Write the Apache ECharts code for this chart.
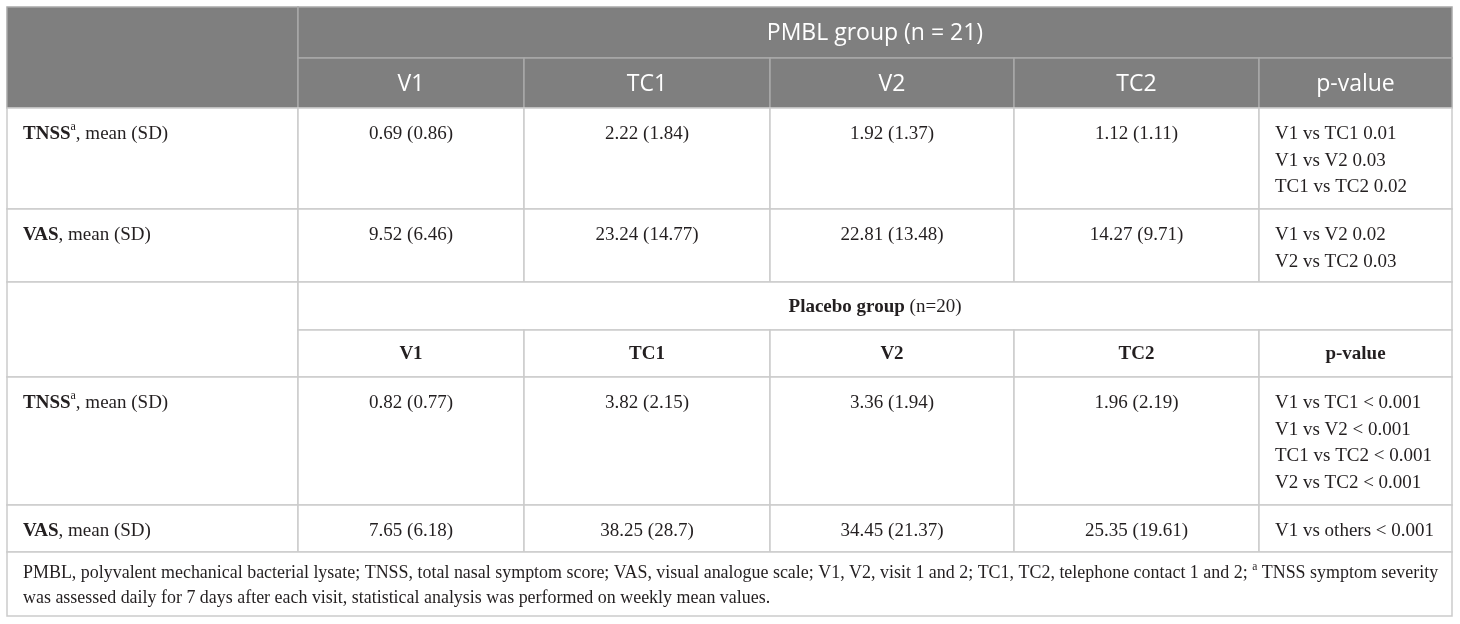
<!DOCTYPE html>
<html>
<head>
<meta charset="utf-8">
<script src="https://cdn.jsdelivr.net/npm/echarts@6/dist/echarts.min.js"></script>
<style>
html,body{margin:0;padding:0;background:#fff;}
#main{width:1460px;height:624px;}
</style>
</head>
<body>
<div id="main"></div>
<script>
// ---------- data ----------
const columns = ['V1', 'TC1', 'V2', 'TC2', 'p-value'];
const pmblTitle = 'PMBL group (n = 21)';
const placeboTitleBold = 'Placebo group';
const placeboTitleRest = ' (n=20)';
const measureNames = ['TNSS', 'VAS'];
const measureSup = ['a', ''];
const measureSuffix = ', mean (SD)';
const pmblMean = [[0.69, 2.22, 1.92, 1.12], [9.52, 23.24, 22.81, 14.27]];
const pmblSD = [[0.86, 1.84, 1.37, 1.11], [6.46, 14.77, 13.48, 9.71]];
const pmblP = [
  ['V1 vs TC1 0.01', 'V1 vs V2 0.03', 'TC1 vs TC2 0.02'],
  ['V1 vs V2 0.02', 'V2 vs TC2 0.03']
];
const placeboMean = [[0.82, 3.82, 3.36, 1.96], [7.65, 38.25, 34.45, 25.35]];
const placeboSD = [[0.77, 2.15, 1.94, 2.19], [6.18, 28.7, 21.37, 19.61]];
const placeboP = [
  ['V1 vs TC1 < 0.001', 'V1 vs V2 < 0.001', 'TC1 vs TC2 < 0.001', 'V2 vs TC2 < 0.001'],
  ['V1 vs others < 0.001']
];
const footnoteA = 'PMBL, polyvalent mechanical bacterial lysate; TNSS, total nasal symptom score; VAS, visual analogue scale; V1, V2, visit 1 and 2; TC1, TC2, telephone contact 1 and 2; ';
const footnoteB = ' TNSS symptom severity';
const footnoteC = 'was assessed daily for 7 days after each visit, statistical analysis was performed on weekly mean values.';

// ---------- layout ----------
const colW = [291, 226, 246, 244, 245, 193];
const rowH = [51, 50, 101, 73, 48, 47, 128, 47, 64];
function edges(a) { const e = [0]; a.forEach(v => e.push(e[e.length - 1] + v)); return e; }
const xE = edges(colW), yE = edges(rowH);

const SERIF = '"Liberation Serif", "Times New Roman", serif';
const SANS = '"Open Sans", "Noto Sans", sans-serif';
const FS = 19, LH = 26.5, FOOT_FS = 17.95;
const TXT = '#231f20';
const HEAD_BG = '#7f7f7f';

const cells = [];
// PMBL header
cells.push({ c: [0, 1], r: [0, 2], head: true });
cells.push({ c: [1, 6], r: [0, 1], head: true, text: pmblTitle, mode: 'center' });
columns.forEach((t, j) => cells.push({ c: [1 + j, 2 + j], r: [1, 2], head: true, text: t, mode: 'center' }));

function bodyRows(means, sds, ps, r0) {
  for (let i = 0; i < 2; i++) {
    const r = [r0 + i, r0 + i + 1];
    const lbl = '{b|' + measureNames[i] + '}' + (measureSup[i] ? '{sup|' + measureSup[i] + '}' : '') + '{r|' + measureSuffix + '}';
    cells.push({ c: [0, 1], r, rich: lbl, mode: 'left' });
    for (let j = 0; j < 4; j++) {
      cells.push({ c: [1 + j, 2 + j], r, text: means[i][j] + ' (' + sds[i][j] + ')', mode: 'top' });
    }
    cells.push({ c: [5, 6], r, text: ps[i].join('\n'), mode: 'left' });
  }
}
bodyRows(pmblMean, pmblSD, pmblP, 2);
// Placebo header
cells.push({ c: [0, 1], r: [4, 6] });
cells.push({ c: [1, 6], r: [4, 5], rich: '{b|' + placeboTitleBold + '}{r|' + placeboTitleRest + '}', mode: 'center' });
columns.forEach((t, j) => cells.push({ c: [1 + j, 2 + j], r: [5, 6], rich: '{b|' + t + '}', mode: 'center' }));
bodyRows(placeboMean, placeboSD, placeboP, 6);
// footnote
cells.push({ c: [0, 6], r: [8, 9], rich: '{r|' + footnoteA + '}{sup|a}{r|' + footnoteB + '}\n{r|' + footnoteC + '}', mode: 'foot' });

const richStyles = {
  b: { fontFamily: SERIF, fontSize: FS, fontWeight: 'bold', fill: TXT, lineHeight: LH },
  r: { fontFamily: SERIF, fontSize: FS, fill: TXT, lineHeight: LH },
  sup: { fontFamily: SERIF, fontSize: 12, fill: TXT, lineHeight: 18, verticalAlign: 'top' }
};
const footRich = {
  r: { fontFamily: SERIF, fontSize: FOOT_FS, fill: TXT, lineHeight: 25 },
  sup: { fontFamily: SERIF, fontSize: 11.5, fill: TXT, lineHeight: 16, verticalAlign: 'top' }
};

function renderItem(params, api) {
  const cell = cells[params.dataIndex];
  const p0 = api.coord([xE[cell.c[0]], yE[cell.r[0]]]);
  const p1 = api.coord([xE[cell.c[1]], yE[cell.r[1]]]);
  const x = p0[0], y = p0[1], w = p1[0] - p0[0], h = p1[1] - p0[1];
  const children = [{
    type: 'rect',
    shape: { x, y, width: w, height: h },
    style: {
      fill: cell.head ? HEAD_BG : '#ffffff',
      stroke: cell.head ? '#a9a9a9' : '#cbcbcb',
      lineWidth: 1.5
    }
  }];
  if (cell.text != null || cell.rich != null) {
    let tx, ty, align, va;
    if (cell.mode === 'center') { tx = x + w / 2; ty = y + h / 2 + 1; align = 'center'; va = 'middle'; }
    else if (cell.mode === 'top') { tx = x + w / 2; ty = y + 13; align = 'center'; va = 'top'; }
    else if (cell.mode === 'foot') { tx = x + 16; ty = y + 9; align = 'left'; va = 'top'; }
    else { tx = x + 16; ty = y + 13; align = 'left'; va = 'top'; }
    const style = {
      x: tx, y: ty,
      align, verticalAlign: va, textAlign: align, textVerticalAlign: va,
      fill: cell.head ? '#ffffff' : TXT,
      fontFamily: cell.head ? SANS : SERIF,
      fontSize: cell.head ? 23 : FS,
      lineHeight: cell.head ? 30 : LH
    };
    if (cell.rich != null) {
      style.text = cell.rich;
      style.rich = cell.mode === 'foot' ? footRich : richStyles;
    } else {
      style.text = cell.text;
    }
    children.push({ type: 'text', style });
  }
  return { type: 'group', children };
}

const chart = echarts.init(document.getElementById('main'), null, { renderer: 'canvas' });
chart.setOption({
  animation: false,
  grid: { left: 7, top: 7, width: xE[xE.length - 1], height: yE[yE.length - 1], containLabel: false },
  xAxis: { type: 'value', min: 0, max: xE[xE.length - 1], show: false },
  yAxis: { type: 'value', min: 0, max: yE[yE.length - 1], inverse: true, show: false },
  series: [{
    type: 'custom',
    coordinateSystem: 'cartesian2d',
    renderItem,
    data: cells.map((c, i) => [i]),
    clip: false,
    silent: true
  }]
});
</script>
</body>
</html>
